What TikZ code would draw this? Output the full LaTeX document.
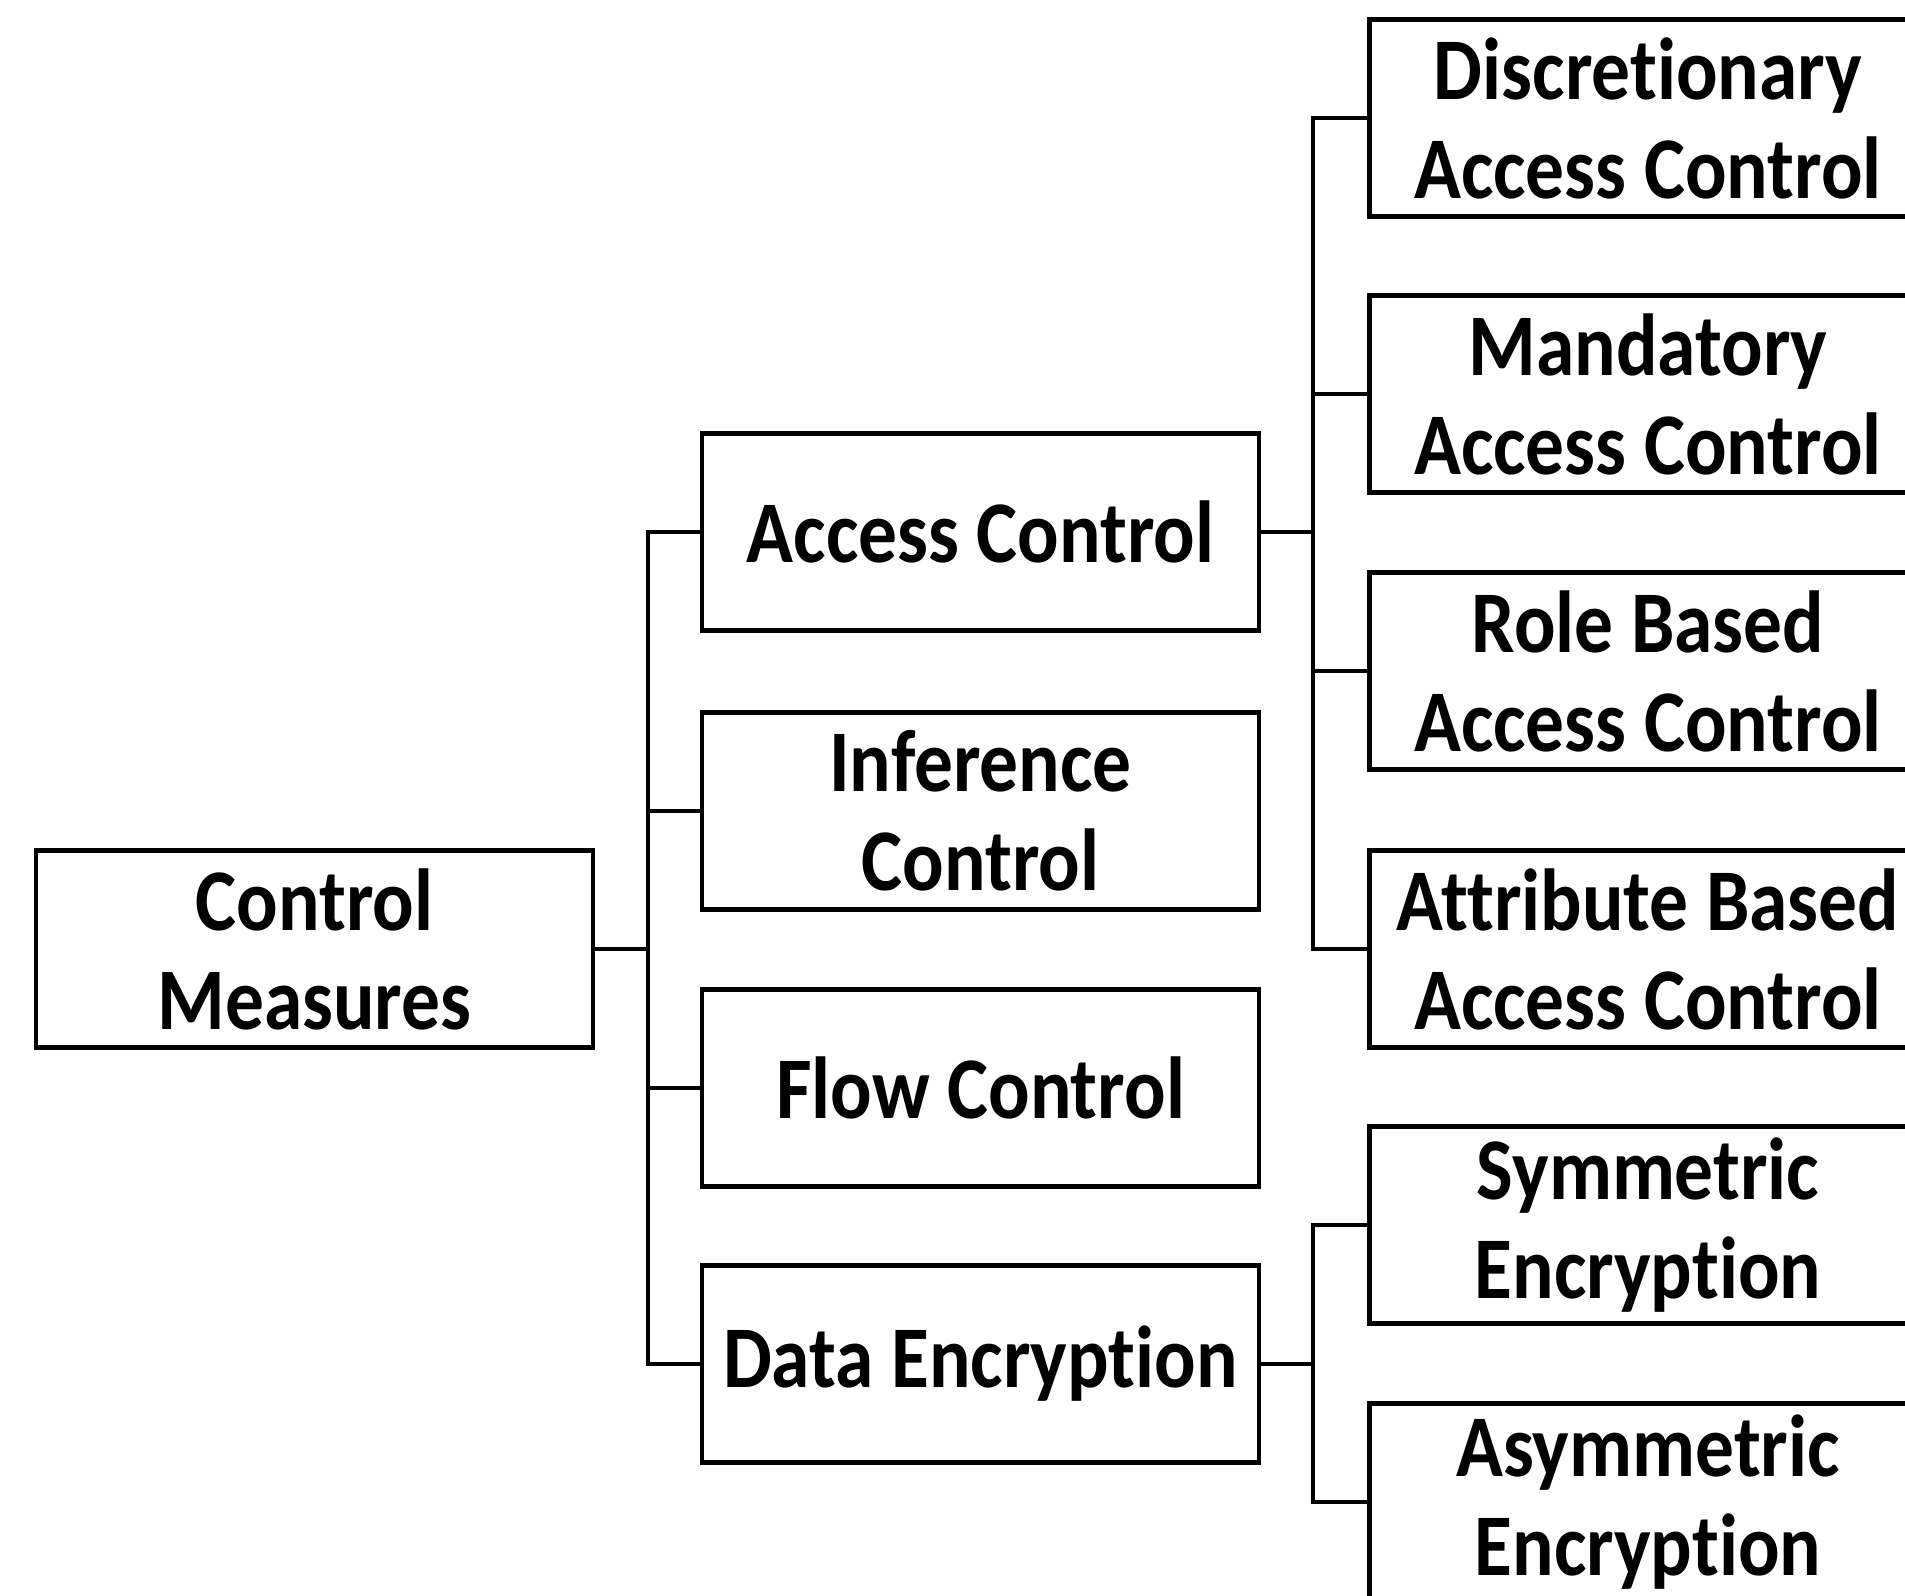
\documentclass[tikz,border=0pt]{standalone}
\usepackage{fontspec}
\setmainfont{Carlito}[FakeStretch=0.88,Ligatures=NoCommon]
\begin{document}
\begin{tikzpicture}[x=0.5pt,y=-0.5pt,
		box/.style={draw,line width=2.3pt,rectangle,minimum width=278.5pt,minimum height=98.5pt,inner sep=0pt,align=center,font=\fontsize{44}{49.5}\selectfont\bfseries},
		link/.style={line width=2.3pt}]
		\useasboundingbox (0,0) rectangle (1905,1595);
		\clip (0,0) rectangle (1905,1595);
		\node[box] (cm) at (314.5,949) {Control\\Measures};
		\node[box] (ac) at (980.5,532) {Access Control};
		\node[box] (ic) at (980.5,811) {Inference\\Control};
		\node[box] (fc) at (980.5,1088) {Flow Control};
		\node[box] (de) at (980.5,1364) {Data Encryption};
		\node[box] (dac) at (1648,118) {Discretionary\\Access Control};
		\node[box] (mac) at (1648,394) {Mandatory\\Access Control};
		\node[box] (rbac) at (1648,671) {Role Based\\Access Control};
		\node[box] (abac) at (1648,949) {Attribute Based\\Access Control};
		\node[box] (se) at (1648,1225) {Symmetric\\Encryption};
		\node[box] (ae) at (1648,1502) {Asymmetric\\Encryption};
		\coordinate (t1) at (648,949);
		\coordinate (t2) at (1313,532);
		\coordinate (t3) at (1313,1364);
		\draw[link] (cm.east) -- (t1);
		\foreach \n in {ac,ic,fc,de}
			\draw[link] (t1) |- (\n.west);
		\draw[link] (ac.east) -- (t2);
		\foreach \n in {dac,mac,rbac,abac}
			\draw[link] (t2) |- (\n.west);
		\draw[link] (de.east) -- (t3);
		\foreach \n in {se,ae}
			\draw[link] (t3) |- (\n.west);
	\end{tikzpicture}
\end{document}
